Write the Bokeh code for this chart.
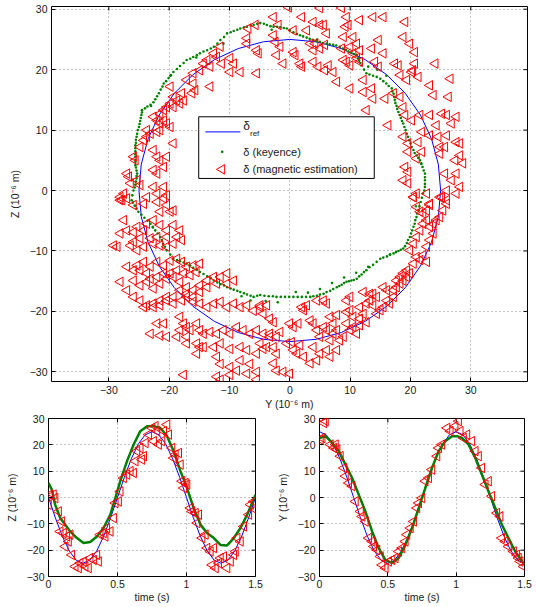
import math
from bokeh.plotting import figure
from bokeh.layouts import column, row
from bokeh.models import FixedTicker, Range1d
from bokeh.embed import file_html
from bokeh.resources import INLINE
from bokeh.core.properties import value

# ---------------- data: main plot (Y vs Z, 1e-6 m) ----------------
ref_y = [25.0, 24.62, 23.49, 21.65, 19.15, 16.07, 12.5, 8.55, 4.34, 0.0, -4.34, -8.55, -12.5, -16.07, -19.15,
         -21.65, -23.49, -24.62, -25.0, -24.62, -23.49, -21.65, -19.15, -16.07, -12.5, -8.55, -4.34, 0.0, 4.34,
         8.55, 12.5, 16.07, 19.15, 21.65, 23.49, 24.62, 25.0]
ref_z = [0.0, 4.34, 8.55, 12.5, 16.07, 19.15, 21.65, 23.49, 24.62, 25.0, 24.62, 23.49, 21.65, 19.15, 16.07,
         12.5, 8.55, 4.34, 0.0, -4.34, -8.55, -12.5, -16.07, -19.15, -21.65, -23.49, -24.62, -25.0, -24.62,
         -23.49, -21.65, -19.15, -16.07, -12.5, -8.55, -4.34, 0.0]

key_y_1 = [-25.9, -25.6, -25.4, -25.3, -25.5, -25.6, -25.6, -25.6, -25.6, -25.5,
           -25.3, -25.0, -24.8, -24.6, -24.5, -23.6, -22.6, -22.0, -21.4, -20.9,
           -20.1, -19.3, -18.2, -17.1, -16.0, -14.9, -13.7, -12.6, -11.5, -10.4,
           -9.3, -8.2, -7.1, -6.0, -4.9, -3.8, -2.7, -1.6, -0.5, 0.6,
           1.7, 2.8, 3.9, 5.0, 6.1, 7.2, 8.3, 9.3, 10.2, 11.1,
           11.5, 11.9, 12.7, 13.8, 15.0, 16.0, 16.9, 17.2, 17.4, 17.7,
           18.0, 18.4, 18.8, 19.2, 19.6, 20.0, 20.5, 21.0, 21.6, 22.0,
           22.4, 22.4, 22.4, 22.1, 21.7, 21.3, 21.0, 20.7, 20.3, 19.9,
           19.4, 18.8, 18.0, 17.2, 16.1, 15.0, 13.8, 12.7, 11.9, 11.1,
           10.2, 9.4, 8.6, 7.8, 6.7, 5.6, 4.5, 3.4, 2.0, 0.6,
           -0.8, -2.2, -3.5, -4.9, -6.0, -7.1, -8.2, -9.3, -10.4, -11.5,
           -12.6, -13.7, -14.9, -16.0, -17.1, -18.2, -19.3, -20.4, -21.0, -21.5,
           -22.3, -23.1, -24.1, -25.1, -25.7, -26.2, -2.0, -4.0, -6.5, -8.0,
           1.0, 3.0, 5.0, 7.0, 9.0, 11.0, 13.0, 13.0, 14.5, 16.0,
           -23.0, -11.0, -3.0, 4.5, -15.5, -19.8, 21.8, 20.9, 16.6, -22.7]
key_z_1 = [0.0, 1.0, 2.0, 2.8, 3.8, 4.7, 5.6, 6.5, 7.5, 8.4,
           9.4, 10.5, 11.5, 12.5, 13.3, 13.9, 14.6, 15.6, 16.7, 17.7,
           18.6, 19.6, 20.6, 21.6, 22.1, 22.7, 23.2, 23.8, 24.9, 26.0,
           26.4, 26.8, 27.1, 27.4, 27.7, 27.4, 27.1, 27.0, 26.8, 26.2,
           25.7, 25.3, 24.9, 24.6, 24.3, 24.1, 23.8, 23.3, 22.8, 22.4,
           21.5, 20.7, 19.4, 19.0, 18.5, 17.7, 16.9, 16.0, 15.0, 14.0,
           13.0, 12.0, 11.1, 10.0, 8.9, 7.8, 6.7, 5.8, 5.0, 3.9,
           2.8, 1.7, 0.6, -0.5, -1.9, -3.3, -4.4, -5.5, -6.6, -7.7,
           -8.7, -9.6, -10.0, -10.4, -10.9, -11.3, -12.3, -13.2, -13.9, -14.6,
           -14.9, -15.1, -15.6, -16.0, -16.6, -17.1, -17.4, -17.6, -17.6, -17.6,
           -17.6, -17.6, -17.5, -17.3, -17.6, -17.2, -16.8, -16.4, -16.0, -15.5,
           -14.9, -14.2, -13.5, -12.8, -12.1, -11.7, -11.3, -9.9, -8.8, -7.7,
           -6.6, -5.5, -4.5, -3.5, -2.5, -1.6, -18.5, -18.3, -18.2, -17.5,
           -16.8, -16.9, -16.3, -15.3, -14.4, -13.6, -12.6, 20.5, 20.0, 19.0,
           14.0, 24.3, 26.6, 25.0, 22.0, 19.0, 4.5, -2.6, -10.6, -6.1]
key_y_2 = [-25.7, -25.5, -25.4, -25.4, -25.6, -25.6, -25.6, -25.6, -25.5, -25.4,
           -25.2, -24.9, -24.7, -24.5, -24.0, -23.1, -22.3, -21.7, -21.1, -20.5,
           -19.7, -18.7, -17.6, -16.5, -15.4, -14.3, -13.1, -12.0, -10.9, -9.8,
           -8.7, -7.6, -6.5, -5.4, -4.3, -3.2, -2.1, -1.0, 0.0, 1.2,
           2.2, 3.3, 4.4, 5.5, 6.6, 7.7, 8.8, 9.7, 10.6, 11.3,
           11.7, 12.3, 13.2, 14.4, 15.5, 16.4, 17.0, 17.3, 17.5, 17.8,
           18.2, 18.6, 19.0, 19.4, 19.8, 20.2, 20.7, 21.3, 21.8, 22.2,
           22.4, 22.4, 22.3, 21.9, 21.5, 21.1, 20.8, 20.5, 20.1, 19.6,
           19.1, 18.4, 17.6, 16.6, 15.5, 14.4, 13.2, 12.3, 11.5, 10.6,
           9.8, 9.0, 8.2, 7.2, 6.1, 5.0, 3.9, 2.7, 1.3, -0.1,
           -1.5, -2.8, -4.2, -5.4, -6.5, -7.6, -8.7, -9.8, -10.9, -12.0,
           -13.1, -14.3, -15.4, -16.5, -17.6, -18.7, -19.8, -20.7, -21.2, -21.9,
           -22.7, -23.6, -24.6, -25.4, -26.0, -26.1]
key_z_2 = [0.5, 1.5, 2.4, 3.3, 4.2, 5.1, 6.0, 7.0, 7.9, 8.9,
           10.0, 11.0, 12.0, 12.9, 13.6, 14.2, 15.1, 16.1, 17.2, 18.1,
           19.1, 20.1, 21.1, 21.8, 22.4, 23.0, 23.5, 24.3, 25.4, 26.2,
           26.6, 27.0, 27.3, 27.6, 27.6, 27.2, 27.1, 26.9, 26.5, 25.9,
           25.5, 25.1, 24.7, 24.4, 24.2, 24.0, 23.5, 23.0, 22.6, 21.9,
           21.1, 20.0, 19.2, 18.8, 18.1, 17.3, 16.4, 15.5, 14.5, 13.5,
           12.5, 11.5, 10.5, 9.4, 8.3, 7.2, 6.2, 5.4, 4.4, 3.3,
           2.2, 1.1, 0.0, -1.2, -2.6, -3.8, -4.9, -6.0, -7.1, -8.2,
           -9.2, -9.8, -10.2, -10.6, -11.1, -11.8, -12.7, -13.5, -14.2, -14.8,
           -15.0, -15.3, -15.8, -16.3, -16.8, -17.2, -17.5, -17.6, -17.6, -17.6,
           -17.6, -17.5, -17.4, -17.4, -17.4, -17.0, -16.6, -16.2, -15.7, -15.2,
           -14.5, -13.8, -13.1, -12.4, -11.9, -11.5, -10.6, -9.3, -8.2, -7.1,
           -6.0, -5.0, -4.0, -3.0, -2.0, -0.8]

# magnetic estimation, upper-left region
mag_y_1 = [-5.7, -6.9, -7.1, -7.1, -5.5, -5.2, -5.5, -11.5, -9.9, -9.3,
           -8.2, -12.1, -11.3, -9.9, -12.6, -13.7, -13.2, -14.3, -14.9, -16.0,
           -17.1, -17.9, -17.6, -16.2, -16.0, -15.7, -13.2, -19.8, -19.3, -18.7,
           -18.2, -19.8, -20.4, -20.9, -21.5, -19.3, -22.6, -22.0, -21.5, -20.9,
           -20.4, -19.8, -23.7, -23.1, -22.0, -21.5, -19.3, -24.2, -24.8, -23.7,
           -22.6, -22.0, -21.5, -20.9, -22.6, -22.0, -20.4, -25.9, -25.6, -27.0,
           -26.7, -26.4, -25.3, -24.8, -22.6, -22.0, -20.9, -20.4, -28.1, -27.8]
mag_z_1 = [27.4, 26.8, 25.2, 24.3, 23.2, 22.7, 19.4, 23.8, 21.9, 21.0,
           19.6, 22.1, 21.0, 19.6, 22.7, 21.6, 20.5, 21.0, 19.9, 19.4,
           18.3, 16.1, 14.9, 16.1, 17.7, 16.6, 17.2, 17.2, 15.5, 14.9,
           14.4, 14.4, 13.8, 13.3, 12.7, 13.8, 12.2, 11.6, 11.1, 11.6,
           11.1, 10.5, 10.0, 9.4, 9.7, 10.0, 7.8, 8.3, 7.2, 8.9,
           6.7, 5.6, 5.0, 3.9, 3.4, 2.8, 5.6, 5.6, 5.0, 2.8,
           2.3, 1.2, 1.7, 0.9, 0.6, -0.5, 0.6, -0.8, -1.1, -1.6]
# upper-right region
mag_y_2 = [-0.2, 5.0, 8.6, -2.7, 2.0, 3.9, 5.0, 5.6, 9.4, 9.7,
           9.2, 11.6, 13.8, 15.5, 19.1, -1.9, 0.6, 2.8, 6.1, -2.7,
           -2.4, -1.6, 0.6, 0.9, -2.2, -1.1, 3.4, 4.2, 5.0, 3.9,
           5.8, 1.7, 2.0, 3.9, 4.7, 5.8, 7.2, 6.4, 8.9, 10.5,
           11.1, 8.6, 10.0, 10.5, 11.6, 13.6, 14.7, 15.5, 8.9, 9.4,
           10.0, 11.1, 11.6, 18.8, 19.9, 20.7, 14.1, 14.7, 17.4, 18.0,
           20.7, 20.4, 24.1, 23.2, 23.8, 26.6, 26.3, 7.8, 10.0, 12.2,
           13.6, 12.2, 13.8, 15.8, 17.2, 18.3, 18.3, 19.4, 20.2, 21.3,
           12.7, 16.3, 18.8, 19.1, 20.2, 21.6, 23.2, 25.2, 26.0, 27.6,
           26.8, 24.3, 21.9, 23.2, 24.6, 26.0, 27.6, 28.2, 24.9, 21.3,
           18.8, 19.6, 19.6, 21.0, 21.9, 19.1, 19.6, 18.8, 19.6, 20.5,
           25.7, 24.9, 25.7, 27.4, 28.2, 28.7, 27.6, 26.8, 28.2, 26.0,
           24.9]
mag_z_2 = [30.3, 30.2, 30.2, 28.7, 28.7, 27.9, 27.4, 27.4, 28.7, 27.4,
           27.1, 28.2, 28.7, 28.7, 27.9, 27.4, 26.5, 26.5, 26.0, 25.7,
           24.6, 23.8, 22.9, 22.4, 22.4, 21.0, 24.3, 24.3, 23.5, 23.2,
           24.1, 21.0, 20.5, 21.3, 20.5, 19.9, 19.6, 20.7, 25.4, 25.4,
           24.3, 23.5, 23.8, 22.7, 23.2, 23.5, 24.9, 22.7, 21.6, 21.3,
           20.7, 21.9, 21.3, 25.4, 24.3, 22.9, 21.3, 20.5, 21.0, 20.7,
           21.0, 19.9, 21.0, 17.4, 15.8, 18.5, 15.5, 18.0, 16.9, 18.3,
           16.9, 16.3, 15.2, 15.2, 16.1, 15.5, 19.1, 18.3, 19.6, 18.8,
           13.3, 10.8, 13.8, 12.5, 11.6, 12.5, 12.5, 12.7, 12.5, 12.2,
           11.1, 10.8, 9.7, 9.1, 8.9, 9.1, 8.0, 7.8, 7.2, 8.0,
           8.9, 7.8, 6.4, 5.3, 6.4, 3.9, 3.1, 1.7, 1.2, -1.1,
           7.2, 6.1, 2.8, 5.0, 5.8, 4.5, 2.8, 1.7, 0.6, 0.0,
           -1.1]
# lower-left region
mag_y_3 = [-28.1, -27.5, -27.0, -25.9, -24.2, -23.7, -22.0, -20.9, -20.4, -19.8,
           -19.3, -21.5, -27.5, -28.1, -27.0, -25.9, -25.3, -24.2, -23.7, -22.6,
           -21.5, -20.4, -19.3, -18.2, -18.7, -20.4, -22.0, -23.1, -24.8, -25.9,
           -26.4, -25.3, -24.2, -22.6, -21.5, -20.4, -19.3, -17.9, -29.2, -28.6,
           -27.0, -25.3, -24.2, -23.1, -22.0, -20.9, -19.8, -18.7, -17.9, -17.1,
           -16.0, -14.9, -15.5, -16.5, -17.6, -18.7, -19.8, -20.9, -22.0, -23.1,
           -23.7, -24.8, -25.9, -28.1, -27.0, -25.9, -24.8, -23.7, -22.6, -21.5,
           -20.4, -19.3, -18.2, -17.1, -16.0, -14.9, -13.7, -12.6, -11.5, -10.4,
           -9.3, -10.4, -12.1, -13.7, -14.9, -16.0, -17.1, -18.2, -19.3, -20.4,
           -21.5, -22.6, -23.7, -24.8, -25.9, -24.2, -22.6, -21.5, -20.4, -19.3,
           -17.9, -17.1, -16.0, -14.9, -13.7, -12.6, -11.5, -10.4, -9.3, -8.2,
           -7.1, -6.0, -4.9, -3.8, -22.0, -20.9, -18.2, -17.6, -17.1, -16.5,
           -15.4, -14.9, -14.3, -13.2, -12.1, -11.0, -9.9, -8.8, -7.7, -6.6,
           -5.5, -4.4, -3.3, -23.1, -21.5, -20.4, -18.7, -17.1, -15.4, -14.3,
           -12.6, -11.5, -9.9, -8.2, -7.1, -5.5, -3.8, -12.1, -11.5, -9.9,
           -8.2, -6.6, -5.5, -7.1, -8.8, -17.1, -15.4, -14.9, -17.6, -9.9,
           -12.1, -11.5, -5.5, -18.2]
mag_z_3 = [-1.6, -0.5, -1.3, -2.4, -2.2, -1.1, -1.9, -1.3, -2.4, -3.5,
           -3.3, -3.5, -4.9, -7.1, -6.6, -6.9, -6.0, -6.6, -5.5, -4.9,
           -5.7, -6.6, -5.7, -6.6, -7.7, -7.7, -7.7, -7.9, -7.9, -8.5,
           -9.1, -9.9, -9.3, -8.8, -9.1, -9.3, -8.8, -8.2, -9.1, -9.3,
           -12.6, -12.4, -11.8, -12.6, -11.8, -12.4, -11.6, -11.3, -11.8, -12.6,
           -12.4, -12.1, -13.5, -14.0, -13.7, -13.2, -13.7, -13.7, -14.3, -14.6,
           -13.7, -13.2, -13.2, -15.1, -16.5, -14.9, -15.7, -15.1, -16.2, -15.4,
           -14.6, -14.3, -15.1, -16.0, -16.5, -15.7, -14.9, -14.3, -14.3, -13.7,
           -14.9, -15.4, -15.4, -16.0, -16.8, -17.6, -17.1, -16.5, -17.6, -17.6,
           -18.2, -18.7, -19.0, -18.2, -17.6, -19.3, -19.3, -19.0, -18.2, -18.7,
           -18.2, -17.6, -18.4, -18.7, -19.3, -18.7, -18.4, -19.3, -18.7, -19.3,
           -19.0, -19.9, -19.3, -19.0, -22.0, -22.0, -20.9, -22.0, -22.6, -23.1,
           -22.0, -23.1, -23.7, -23.4, -23.7, -23.1, -23.7, -22.6, -23.1, -23.7,
           -23.1, -23.7, -24.2, -23.7, -24.0, -24.2, -24.2, -24.2, -25.3, -25.9,
           -25.9, -25.3, -26.2, -25.9, -26.4, -27.0, -25.9, -27.5, -28.7, -29.2,
           -28.1, -28.7, -30.0, -30.3, -29.8, -25.3, -27.0, -25.9, -30.5, -30.5,
           -30.8, -31.3, -31.3, -23.1]
# lower-right region
mag_y_4 = [-4.9, -4.4, -3.3, -2.7, -4.9, -4.4, -2.7, -2.2, -2.7, -2.2,
           -1.1, 0.0, -3.3, -2.2, -1.6, -0.5, 0.3, 0.6, 1.2, 1.7,
           2.3, 0.0, 0.6, 1.4, 2.3, 2.0, 2.8, 3.4, 3.9, 4.5,
           5.0, 5.6, 6.1, 6.7, 7.2, 7.8, 8.3, 8.9, 9.4, 10.0,
           10.5, 11.1, 11.6, 3.9, 5.0, 6.1, 6.7, 7.8, 3.4, 4.5,
           5.6, 4.5, 6.1, 6.7, 7.2, 7.8, 9.4, 10.0, 10.5, 11.6,
           12.2, 12.7, 12.7, 13.3, 13.8, 14.4, 15.0, 15.5, 16.1, 16.6,
           17.2, 17.2, 17.7, 18.3, 18.8, 19.4, 19.9, 18.8, 18.3, 19.4,
           17.7, 16.1, 15.5, 14.4, 13.8, 11.6, 12.2, 13.3, 10.0, 9.4,
           20.5, 21.0, 21.6, 22.1, 19.9, 20.5, 21.0, 21.6, 22.1, 22.7,
           23.2, 23.8, 24.3, 24.9, 25.4, 26.0, 21.0, 21.6, 22.1, 22.7,
           23.2, 20.5, 21.0, 22.7, 23.2, 25.2, 26.0, 27.6, 23.8, 23.2,
           22.7, 22.7]
mag_z_4 = [-19.0, -20.4, -21.2, -21.8, -25.3, -26.2, -25.9, -27.0, -28.6, -29.8,
           -30.0, -30.3, -23.7, -24.2, -23.4, -25.3, -25.1, -26.4, -27.0, -25.6,
           -27.5, -22.0, -22.6, -22.0, -19.8, -19.3, -19.0, -21.5, -22.0, -23.1,
           -24.2, -22.6, -23.1, -24.8, -23.7, -23.1, -24.8, -24.2, -22.0, -23.1,
           -22.6, -23.7, -22.3, -25.9, -27.0, -26.4, -27.5, -26.4, -28.6, -28.1,
           -18.2, -18.2, -18.7, -20.9, -22.0, -20.6, -20.1, -19.8, -20.9, -21.2,
           -20.4, -21.8, -18.7, -18.2, -19.0, -20.4, -19.8, -19.3, -18.2, -18.7,
           -17.6, -16.5, -16.0, -15.4, -14.9, -14.3, -13.7, -13.7, -14.3, -13.2,
           -14.9, -16.5, -16.0, -17.6, -17.1, -19.3, -16.8, -17.1, -17.6, -18.2,
           -12.1, -11.0, -11.5, -10.7, -9.9, -8.8, -7.7, -6.6, -5.5, -4.9,
           -6.0, -5.5, -4.9, -4.4, -3.3, -2.2, -2.7, -3.5, -3.8, -3.3,
           -2.4, -1.1, -0.5, -0.5, -2.2, -1.1, -1.6, -0.5, -7.1, -8.2,
           -9.3, -11.8]

# ---------------- data: time series ----------------
t_ref = [0.0, 0.05, 0.1, 0.15, 0.2, 0.25, 0.3, 0.35, 0.4, 0.45, 0.5, 0.55, 0.6, 0.65, 0.7, 0.75,
         0.8, 0.85, 0.9, 0.95, 1.0, 1.05, 1.1, 1.15, 1.2, 1.25, 1.3, 1.35, 1.4, 1.45, 1.5]
zref_t = [0.0, -7.73, -14.69, -20.23, -23.78, -25.0, -23.78, -20.23, -14.69, -7.73, 0.0, 7.73, 14.69,
          20.23, 23.78, 25.0, 23.78, 20.23, 14.69, 7.73, 0.0, -7.73, -14.69, -20.23, -23.78, -25.0,
          -23.78, -20.23, -14.69, -7.73, 0.0]
yref_t = [25.0, 23.78, 20.23, 14.69, 7.73, 0.0, -7.73, -14.69, -20.23, -23.78, -25.0, -23.78, -20.23,
          -14.69, -7.73, 0.0, 7.73, 14.69, 20.23, 23.78, 25.0, 23.78, 20.23, 14.69, 7.73, 0.0, -7.73,
          -14.69, -20.23, -23.78, -25.0]

t_keyz = [0.0, 0.024, 0.048, 0.085, 0.121, 0.157, 0.206, 0.254, 0.302, 0.351, 0.399, 0.448, 0.484,
          0.52, 0.569, 0.617, 0.665, 0.714, 0.762, 0.811, 0.859, 0.907, 0.956, 1.004, 1.052, 1.101,
          1.149, 1.198, 1.246, 1.294, 1.343, 1.391, 1.44, 1.5]
zkey_t = [5.5, 3.0, -2.7, -7.8, -10.3, -12.9, -15.4, -17.3, -16.9, -14.8, -11.6, -6.5, -0.2, 6.2,
          13.8, 20.1, 25.2, 27.1, 27.1, 26.4, 23.3, 17.6, 10.0, 3.6, -4.0, -10.3, -13.5, -15.4, -18.0,
          -18.2, -15.4, -11.6, -6.5, 1.1]
t_keyy = [0.0, 0.044, 0.093, 0.141, 0.19, 0.239, 0.287, 0.336, 0.385, 0.433, 0.482, 0.531, 0.58,
          0.628, 0.677, 0.726, 0.774, 0.823, 0.872, 0.92, 0.969, 1.006, 1.042, 1.091, 1.14, 1.188,
          1.237, 1.286, 1.334, 1.383, 1.432, 1.5]
ykey_t = [22.6, 23.3, 20.7, 17.6, 12.5, 7.4, 1.1, -5.3, -12.9, -19.2, -23.7, -24.9, -23.0, -18.0,
          -11.6, -4.0, 3.6, 11.2, 17.6, 21.4, 23.3, 23.3, 22.6, 20.1, 15.0, 8.7, 2.3, -4.0, -10.3,
          -15.4, -20.5, -25.6]

t_magz = [0.012, 0.036, 0.0, 0.048, 0.073, 0.097, 0.085, 0.109, 0.133, 0.157,
          0.145, 0.121, 0.169, 0.194, 0.218, 0.23, 0.254, 0.266, 0.29, 0.302,
          0.327, 0.351, 0.363, 0.375, 0.399, 0.423, 0.411, 0.448, 0.472, 0.484,
          0.508, 0.52, 0.544, 0.569, 0.593, 0.617, 0.629, 0.641, 0.665, 0.69,
          0.677, 0.702, 0.726, 0.75, 0.774, 0.786, 0.762, 0.798, 0.823, 0.835,
          0.859, 0.871, 0.895, 0.907, 0.919, 0.944, 0.956, 0.968, 0.992, 0.98,
          1.004, 1.028, 1.04, 1.065, 1.089, 1.077, 1.113, 1.137, 1.149, 1.173,
          1.198, 1.186, 1.21, 1.234, 1.246, 1.27, 1.294, 1.319, 1.343, 1.355,
          1.367, 1.391, 1.415, 1.452, 1.464, 1.488, 1.5]
zmag_t = [1.1, 1.1, -2.7, -0.2, -5.3, -9.1, -12.9, -13.5, -14.8, -14.1,
          -16.7, -18.6, -21.8, -26.2, -26.8, -24.9, -24.3, -26.2, -26.8, -23.0,
          -23.7, -21.8, -24.3, -14.1, -13.5, -11.6, -14.8, -12.9, -7.8, -2.1,
          -1.5, 2.3, 7.4, 8.7, 10.0, 9.3, 13.8, 17.6, 18.8, 15.7,
          14.4, 20.7, 23.9, 26.4, 27.1, 25.2, 21.4, 20.1, 21.4, 25.2,
          27.7, 23.9, 18.8, 15.0, 16.3, 16.9, 12.5, 6.2, 5.5, 3.6,
          4.9, -4.0, -5.3, -5.9, -6.5, -9.7, -15.4, -14.1, -19.2, -20.5,
          -19.2, -25.6, -26.8, -24.9, -23.0, -22.4, -26.8, -24.3, -21.8, -20.5,
          -15.4, -16.7, -11.0, -6.5, -2.7, -1.5, -4.6]
t_magy = [0.007, 0.032, 0.044, 0.02, 0.08, 0.105, 0.117, 0.129, 0.153, 0.178,
          0.19, 0.214, 0.239, 0.263, 0.3, 0.312, 0.336, 0.36, 0.385, 0.397,
          0.421, 0.446, 0.458, 0.482, 0.506, 0.531, 0.555, 0.58, 0.604, 0.628,
          0.64, 0.665, 0.689, 0.713, 0.726, 0.75, 0.774, 0.799, 0.823, 0.86,
          0.872, 0.896, 0.933, 0.957, 0.993, 1.018, 1.03, 1.054, 1.079, 1.115,
          1.14, 1.164, 1.188, 1.213, 1.237, 1.261, 1.298, 1.322, 1.334, 1.359,
          1.383, 1.42, 1.444, 1.468, 1.493, 1.456]
ymag_t = [22.0, 28.3, 29.0, 22.6, 20.1, 18.8, 20.1, 18.2, 15.7, 11.2,
          8.1, 5.5, 4.3, -1.5, -5.3, -7.2, -9.1, -15.4, -16.7, -18.6,
          -19.9, -22.4, -25.6, -26.8, -24.3, -23.7, -23.0, -20.5, -19.2, -16.7,
          -14.1, -11.6, -9.1, -4.0, -2.1, -0.2, 6.2, 7.4, 10.6, 15.7,
          18.8, 20.1, 26.4, 25.2, 27.1, 29.0, 25.2, 22.6, 23.9, 21.4,
          17.6, 15.7, 11.2, 4.9, 6.2, 0.5, -5.9, -7.2, -15.4, -16.7,
          -18.6, -20.5, -21.8, -24.3, -26.2, -23.0]

# ---------------- ticks / labels ----------------
pos_ticks = [-30, -20, -10, 0, 10, 20, 30]
pos_tick_labels = ["\u221230", "\u221220", "\u221210", "0", "10", "20", "30"]
time_ticks = [0, 0.5, 1, 1.5]
time_tick_labels = ["0", "0.5", "1", "1.5"]
label_y = "Y (10\u207b\u2076 m)"
label_z = "Z (10\u207b\u2076 m)"
label_t = "time (s)"
legend_texts = ["\u03b4", "ref", "\u03b4 (keyence)", "\u03b4 (magnetic estimation)"]

key_y = key_y_1 + key_y_2
key_z = key_z_1 + key_z_2
mag_y = mag_y_1 + mag_y_2 + mag_y_3 + mag_y_4
mag_z = mag_z_1 + mag_z_2 + mag_z_3 + mag_z_4

# ---------------- style ----------------
FONT = "Liberation Sans"
RED, GREEN, BLUE = "#FF0000", "#008000", "#0000FF"
TXT = "#1a1a1a"
FS = "10.5px"
TICK_PX = 4
TRI = dict(marker="triangle", angle=math.pi / 2, size=9.5, fill_color=None,
           line_color=RED, line_width=1)


def make_fig(xr, yr, fw, fh, bl, br, bt, bb, xticks, xlabels, yticks, ylabels,
             xlabel, ylabel, xstand, xlstand, ylstand):
    p = figure(x_range=Range1d(*xr), y_range=Range1d(*yr), frame_width=fw, frame_height=fh,
               min_border_left=bl, min_border_right=br, min_border_top=bt, min_border_bottom=bb,
               output_backend="svg", toolbar_location=None)
    p.outline_line_color = "black"
    p.outline_line_width = 1
    xt = FixedTicker(ticks=xticks)
    yt = FixedTicker(ticks=yticks)
    p.xaxis.ticker = xt
    p.yaxis.ticker = yt
    p.xgrid.ticker = xt
    p.ygrid.ticker = yt
    p.xaxis.major_label_overrides = dict(zip(xticks, xlabels))
    p.yaxis.major_label_overrides = dict(zip(yticks, ylabels))
    p.xaxis.axis_label = xlabel
    p.yaxis.axis_label = ylabel
    for ax in (p.xaxis[0], p.yaxis[0]):
        ax.major_tick_in = TICK_PX
        ax.major_tick_out = 0
        ax.major_tick_line_color = "black"
        ax.minor_tick_line_color = None
        ax.axis_line_color = None
        ax.major_label_text_font = FONT
        ax.major_label_text_font_size = FS
        ax.major_label_text_color = TXT
        ax.axis_label_text_font = FONT
        ax.axis_label_text_font_size = FS
        ax.axis_label_text_font_style = "normal"
        ax.axis_label_text_color = TXT
    p.xaxis.major_label_standoff = xstand
    p.xaxis.axis_label_standoff = xlstand
    p.yaxis.major_label_standoff = 4
    p.yaxis.axis_label_standoff = ylstand
    for g in (p.xgrid[0], p.ygrid[0]):
        g.grid_line_color = "#8a8a8a"
        g.grid_line_dash = "1 3"
        g.grid_line_width = 1
    # mirrored inward ticks on the top and right edges of the box
    dy = TICK_PX * (yr[1] - yr[0]) / fh
    dx = TICK_PX * (xr[1] - xr[0]) / fw
    p.segment(x0=xticks, y0=[yr[1]] * len(xticks), x1=xticks, y1=[yr[1] - dy] * len(xticks),
              line_color="black", line_width=1)
    p.segment(x0=[xr[1]] * len(yticks), y0=yticks, x1=[xr[1] - dx] * len(yticks), y1=yticks,
              line_color="black", line_width=1)
    return p


# ---------------- main plot ----------------
pm = make_fig((-39.5, 39.4), (-31.6, 30.45), 476, 375, 51, 9, 6, 26,
              pos_ticks, pos_tick_labels, pos_ticks, pos_tick_labels, label_y, label_z, 4, 1, 6)
pm.line(ref_y, ref_z, line_color=BLUE, line_width=1)
pm.scatter(key_y, key_z, marker="circle", size=2.6, fill_color=GREEN, line_color=None)
pm.scatter(mag_y, mag_z, **TRI)

# legend (drawn manually to allow the subscript)
pm.quad(left=-15.1, right=14.0, bottom=2.0, top=12.2, fill_color="white",
        line_color="black", line_width=1)
pm.line([-14.0, -8.2], [9.7, 9.7], line_color=BLUE, line_width=1)
pm.text([-7.7], [10.7], text=[legend_texts[0]], text_font=value(FONT), text_font_size="12px",
        text_baseline="middle", text_align="left", text_color=TXT)
pm.text([-6.6], [9.45], text=[legend_texts[1]], text_font=value(FONT), text_font_size="8px",
        text_baseline="middle", text_align="left", text_color=TXT)
pm.scatter([-11.2], [6.4], marker="circle", size=2.6, fill_color=GREEN, line_color=None)
pm.text([-7.7], [6.4], text=[legend_texts[2]], text_font=value(FONT), text_font_size="11px",
        text_baseline="middle", text_align="left", text_color=TXT)
pm.scatter([-11.25], [3.5], **TRI)
pm.text([-7.7], [3.5], text=[legend_texts[3]], text_font=value(FONT), text_font_size="11px",
        text_baseline="middle", text_align="left", text_color=TXT)

# ---------------- Z vs time ----------------
pz = make_fig((0, 1.5), (-30, 30), 207, 158, 48, 10, 6, 0,
              time_ticks, time_tick_labels, pos_ticks, pos_tick_labels, label_t, label_z, 3, 0, 6)
pz.line(t_ref, zref_t, line_color=BLUE, line_width=1)
pz.line(t_keyz, zkey_t, line_color=GREEN, line_width=2.5)
pz.scatter(t_magz, zmag_t, **TRI)

# ---------------- Y vs time ----------------
py = make_fig((0, 1.5), (-30, 30), 205, 158, 54, 12, 6, 0,
              time_ticks, time_tick_labels, pos_ticks, pos_tick_labels, label_t, label_y, 3, 0, 6)
py.line(t_ref, yref_t, line_color=BLUE, line_width=1)
py.line(t_keyy, ykey_t, line_color=GREEN, line_width=2.5)
py.scatter(t_magy, ymag_t, **TRI)

layout = column(pm, row(pz, py))
open("out.html", "w").write(file_html(layout, INLINE))
